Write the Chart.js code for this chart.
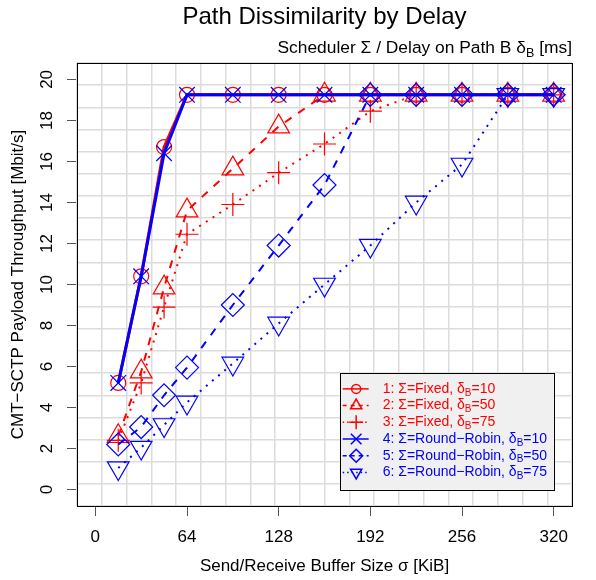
<!DOCTYPE html>
<html>
<head>
<meta charset="utf-8">
<script src="https://cdn.jsdelivr.net/npm/chart.js@4.4.1/dist/chart.umd.min.js"></script>
<style>
  html, body { margin: 0; padding: 0; background: #fff; }
  #wrap { width: 596px; height: 580px; }
</style>
</head>
<body>
<div id="wrap"><canvas id="chart" width="596" height="580"></canvas></div>
<script>
// buffer sizes in KiB (x) and throughput in Mbit/s (y)
const bufferSizes = [16, 32, 48, 64, 96, 128, 160, 192, 224, 256, 288, 320];
const fixed10 = [5.2, 10.4, 16.7, 19.25, 19.25, 19.25, 19.25, 19.25, 19.25, 19.25, 19.25, 19.25];
const fixed50 = [2.6, 5.75, 9.85, 13.6, 15.65, 17.7, 19.25, 19.25, 19.25, 19.25, 19.25, 19.25];
const fixed75 = [2.4, 5.2, 8.9, 12.45, 13.9, 15.45, 16.85, 18.45, 19.25, 19.25, 19.25, 19.25];
const rr10 = [5.2, 10.4, 16.4, 19.25, 19.25, 19.25, 19.25, 19.25, 19.25, 19.25, 19.25, 19.25];
const rr50 = [2.2, 3.05, 4.6, 5.95, 9.0, 11.9, 14.85, 19.25, 19.25, 19.25, 19.25, 19.25];
const rr75 = [1.05, 2.05, 3.15, 4.25, 6.15, 8.1, 10.0, 11.9, 14.0, 15.85, 19.25, 19.25];

const xTicks = [0, 64, 128, 192, 256, 320];
const yTicks = [0, 2, 4, 6, 8, 10, 12, 14, 16, 18, 20];

const FONT = '"Liberation Sans", Arial, Helvetica, sans-serif';
const RED = "#ff0000";
const BLUE = "#0000ff";

const series = [
  { name: "1: Σ=Fixed, δ", delay: "=10", data: fixed10, color: RED, width: 3, dash: [], ldash: [], style: "circle", rot: 0, r: 7.5, lr: 4.5 },
  { name: "2: Σ=Fixed, δ", delay: "=50", data: fixed50, color: RED, width: 2, dash: [8, 8], ldash: [4, 4], style: "triangle", rot: 0, r: 12.5, lr: 6.5 },
  { name: "3: Σ=Fixed, δ", delay: "=75", data: fixed75, color: RED, width: 2, dash: [2, 6], ldash: [1.5, 3], style: "cross", rot: 0, r: 11.5, lr: 7 },
  { name: "4: Σ=Round−Robin, δ", delay: "=10", data: rr10, color: BLUE, width: 3, dash: [], ldash: [], style: "crossRot", rot: 0, r: 11, lr: 7.5 },
  { name: "5: Σ=Round−Robin, δ", delay: "=50", data: rr50, color: BLUE, width: 2, dash: [8, 8], ldash: [4, 4], style: "rectRot", rot: 0, r: 11.5, lr: 6.5 },
  { name: "6: Σ=Round−Robin, δ", delay: "=75", data: rr75, color: BLUE, width: 2, dash: [2, 6], ldash: [1.5, 3], style: "triangle", rot: 180, r: 12.5, lr: 6.5 },
];

Chart.defaults.font.family = FONT;
Chart.defaults.color = "#000";

function drawSub(ctx, x, y, main, sub, tail, size, subSize, subShift) {
  ctx.font = `${size}px ${FONT}`;
  ctx.fillText(main, x, y);
  x += ctx.measureText(main).width;
  ctx.font = `${subSize}px ${FONT}`;
  ctx.fillText(sub, x, y + subShift);
  x += ctx.measureText(sub).width;
  ctx.font = `${size}px ${FONT}`;
  ctx.fillText(tail, x, y);
}

function subWidth(ctx, main, sub, tail, size, subSize) {
  ctx.font = `${size}px ${FONT}`;
  let w = ctx.measureText(main).width + ctx.measureText(tail).width;
  ctx.font = `${subSize}px ${FONT}`;
  return w + ctx.measureText(sub).width;
}

const decor = {
  id: "decor",
  beforeDatasetsDraw(chart) {
    const { ctx, chartArea: a } = chart;
    ctx.save();
    ctx.strokeStyle = "#000";
    ctx.lineWidth = 1;
    ctx.strokeRect(a.left + 0.5, a.top + 0.5, a.right - a.left, a.bottom - a.top);
    ctx.restore();
  },
  afterDraw(chart) {
    const { ctx, chartArea: a, scales } = chart;
    ctx.save();
    ctx.fillStyle = "#000";

    // title + subtitle
    ctx.textAlign = "center";
    ctx.textBaseline = "alphabetic";
    ctx.font = `24px ${FONT}`;
    ctx.fillText("Path Dissimilarity by Delay", (a.left + a.right) / 2, 24);
    ctx.textAlign = "left";
    const sw = subWidth(ctx, "Scheduler Σ / Delay on Path B δ", "B", " [ms]", 17.4, 12.5);
    drawSub(ctx, a.right - sw, 53, "Scheduler Σ / Delay on Path B δ", "B", " [ms]", 17.4, 12.5, 4);

    // rotated y tick labels
    ctx.font = `17px ${FONT}`;
    ctx.textAlign = "center";
    ctx.textBaseline = "middle";
    yTicks.forEach((v) => {
      ctx.save();
      ctx.translate(47, scales.y.getPixelForValue(v));
      ctx.rotate(-Math.PI / 2);
      ctx.fillText(String(v), 0, 0);
      ctx.restore();
    });

    // legend box, bottom right corner at (320, 0)
    const right = scales.x.getPixelForValue(320);
    const bottom = scales.y.getPixelForValue(0);
    const w = 214, h = 117;
    const left = right - w, top = bottom - h;
    ctx.fillStyle = "#f0f0f0";
    ctx.fillRect(left, top, w, h);
    ctx.strokeStyle = "#000";
    ctx.lineWidth = 1;
    ctx.strokeRect(Math.round(left) + 0.5, Math.round(top) + 0.5, w, h);

    series.forEach((s, i) => {
      const y = top + 16.3 + i * 16.7;
      ctx.strokeStyle = s.color;
      ctx.lineWidth = 1.5;
      ctx.setLineDash(s.ldash);
      ctx.beginPath();
      ctx.moveTo(left + 3, y);
      ctx.lineTo(left + 29, y);
      ctx.stroke();
      ctx.setLineDash([]);
      ctx.fillStyle = "rgba(0,0,0,0)";
      Chart.helpers.drawPoint(ctx, { pointStyle: s.style, rotation: s.rot, radius: s.lr, borderWidth: 1 }, left + 16.5, y);
      ctx.fillStyle = s.color;
      ctx.textAlign = "left";
      ctx.textBaseline = "middle";
      drawSub(ctx, left + 43, y, s.name, "B", s.delay, 14, 10, 4);
    });
    ctx.restore();
  },
};

new Chart(document.getElementById("chart"), {
  type: "line",
  data: {
    labels: bufferSizes,
    datasets: series.map((s, i) => ({
      label: s.name + "B" + s.delay,
      data: bufferSizes.map((x, j) => ({ x, y: s.data[j] })),
      borderColor: s.color,
      borderWidth: s.width,
      borderDash: s.dash,
      borderCapStyle: "butt",
      fill: false,
      tension: 0,
      pointStyle: s.style,
      pointRotation: s.rot,
      pointRadius: s.r,
      pointBorderWidth: 1.2,
      pointBorderColor: s.color,
      pointBackgroundColor: "rgba(0,0,0,0)",
      order: series.length - i,
    })),
  },
  options: {
    responsive: false,
    animation: false,
    devicePixelRatio: 1,
    layout: { padding: { left: 0, top: 63, right: 24, bottom: 0 } },
    plugins: { legend: { display: false }, tooltip: { enabled: false } },
    scales: {
      x: {
        type: "linear",
        position: "bottom",
        min: -12.8,
        max: 332.8,
        afterBuildTicks: (s) => { s.ticks = xTicks.map((v) => ({ value: v })); },
        afterFit: (s) => { s.height = 74; },
        grid: { drawOnChartArea: false, drawTicks: true, tickLength: 10, color: "#555" },
        border: { display: false },
        ticks: { font: { size: 17 }, color: "#000", padding: 11, maxRotation: 0, autoSkip: false },
        title: { display: true, text: "Send/Receive Buffer Size σ [KiB]", font: { size: 17 }, padding: { top: 0, bottom: 3 } },
      },
      y: {
        type: "linear",
        position: "left",
        min: -0.8,
        max: 20.8,
        afterBuildTicks: (s) => { s.ticks = yTicks.map((v) => ({ value: v })); },
        afterFit: (s) => { s.width = 77; },
        grid: { drawOnChartArea: false, drawTicks: true, tickLength: 10, color: "#555" },
        border: { display: false },
        ticks: { display: false },
        title: { display: true, text: "CMT−SCTP Payload Throughput [Mbit/s]", font: { size: 17 }, padding: { top: 8, bottom: 0 } },
      },
      xg: {
        type: "linear",
        position: "bottom",
        min: 0,
        max: 20,
        ticks: { display: false, stepSize: 1 },
        afterFit: (s) => { s.height = 0; },
        grid: { color: "#dcdcdc", lineWidth: 1.5, drawTicks: false },
        border: { display: false },
      },
      yg: {
        type: "linear",
        position: "left",
        min: 0,
        max: 20,
        ticks: { display: false, stepSize: 1 },
        afterFit: (s) => { s.width = 0; },
        grid: { color: "#dcdcdc", lineWidth: 1.5, drawTicks: false },
        border: { display: false },
      },
    },
  },
  plugins: [decor],
});
</script>
</body>
</html>
